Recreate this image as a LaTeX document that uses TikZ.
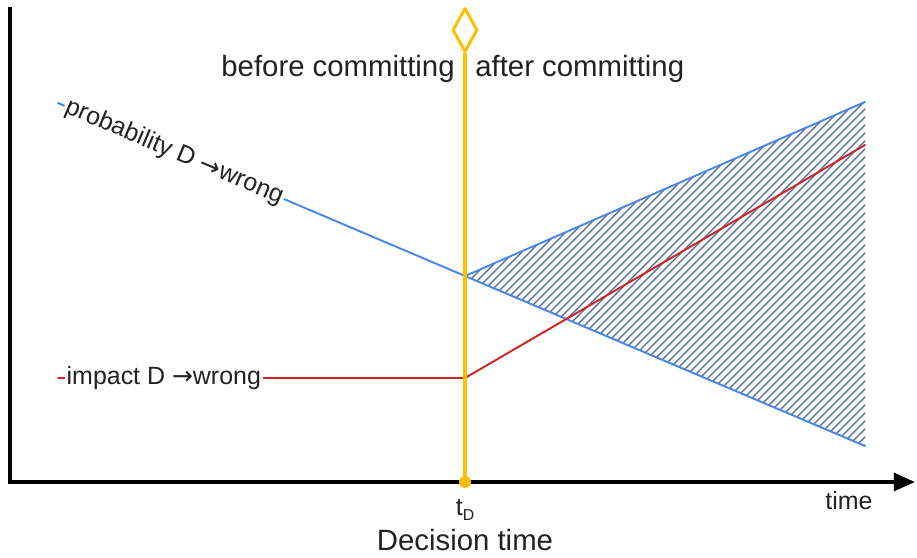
\documentclass[tikz,border=0pt]{standalone}
\usepackage{fontspec}
\setmainfont{Liberation Sans}
\newfontfamily\arrowfont{DejaVu Sans}
\usetikzlibrary{arrows.meta,shapes.geometric}
\definecolor{lineblue}{RGB}{74,134,232}
\definecolor{hatchblue}{RGB}{72,104,152}
\definecolor{linered}{RGB}{206,36,36}
\definecolor{tyellow}{RGB}{255,190,0}
\definecolor{textgray}{RGB}{34,34,34}
\newcommand{\toarrow}{{\arrowfont →}}
\begin{document}
\begin{tikzpicture}[line join=round, line cap=round, font=\fontsize{14.2}{17}\selectfont, text=textgray,
		lbl/.style={fill=white, inner sep=1pt, text=textgray},
		bigtext/.style={font=\fontsize{16.7}{20}\selectfont, inner sep=0pt}]
	\useasboundingbox (-0.2,-1.5) rectangle (18.14,9.64);
	\coordinate (tD) at (9.1,0);
	\coordinate (pstart) at (0.96,7.58);
	\coordinate (pc) at (9.1,4.12);
	\coordinate (pu) at (17.1,7.6);
	\coordinate (pl) at (17.1,0.72);
	\coordinate (rstart) at (0.96,2.08);
	\coordinate (rc) at (9.1,2.08);
	\coordinate (ru) at (17.1,6.74);
	% hatched area after committing
	\begin{scope}
		\clip (pc)--(pu)--(pl)--cycle;
		\foreach \k in {5.0,5.16,...,16.5} \draw[hatchblue, line width=0.7pt] (\k,0)--++(8,8);
	\end{scope}
	\draw[lineblue, line width=1.1pt] (pc)--(pu);
	\draw[lineblue, line width=1.1pt] (pstart)--node[lbl, sloped, pos=0.144]{probability D \toarrow wrong}(pl);
	\draw[linered, line width=1.1pt] (rstart)--node[lbl, pos=0.26]{impact D \toarrow wrong}(rc)--(ru);
	% axes
	\draw[line width=2.3pt, line cap=butt, line join=miter, -{Triangle[length=12pt,width=10pt]}] (0,9.5)--(0,0)--(18.1,0);
	% decision time
	\node[circle, fill=tyellow, inner sep=0pt, minimum size=0.24cm] (dot) at (tD) {};
	\node[diamond, draw=tyellow, line width=1.7pt, inner sep=0pt, minimum width=0.5cm, minimum height=0.88cm] (flag) at (9.1,9.04) {};
	\draw[tyellow, line width=2.5pt, line cap=butt] (dot)--(flag.south);
	\node[bigtext, anchor=east] (before) at (8.9,8.26) {before committing};
	\node[bigtext, anchor=west] (after) at (9.3,8.26) {after committing};
	\node (tlabel) at (9.1,-0.56) {t\raisebox{-0.35ex}{\fontsize{9}{9}\selectfont D}};
	\node[bigtext] (dtime) at (9.1,-1.16) {Decision time};
	\node (time) at (16.78,-0.38) {time};
\end{tikzpicture}
\end{document}
